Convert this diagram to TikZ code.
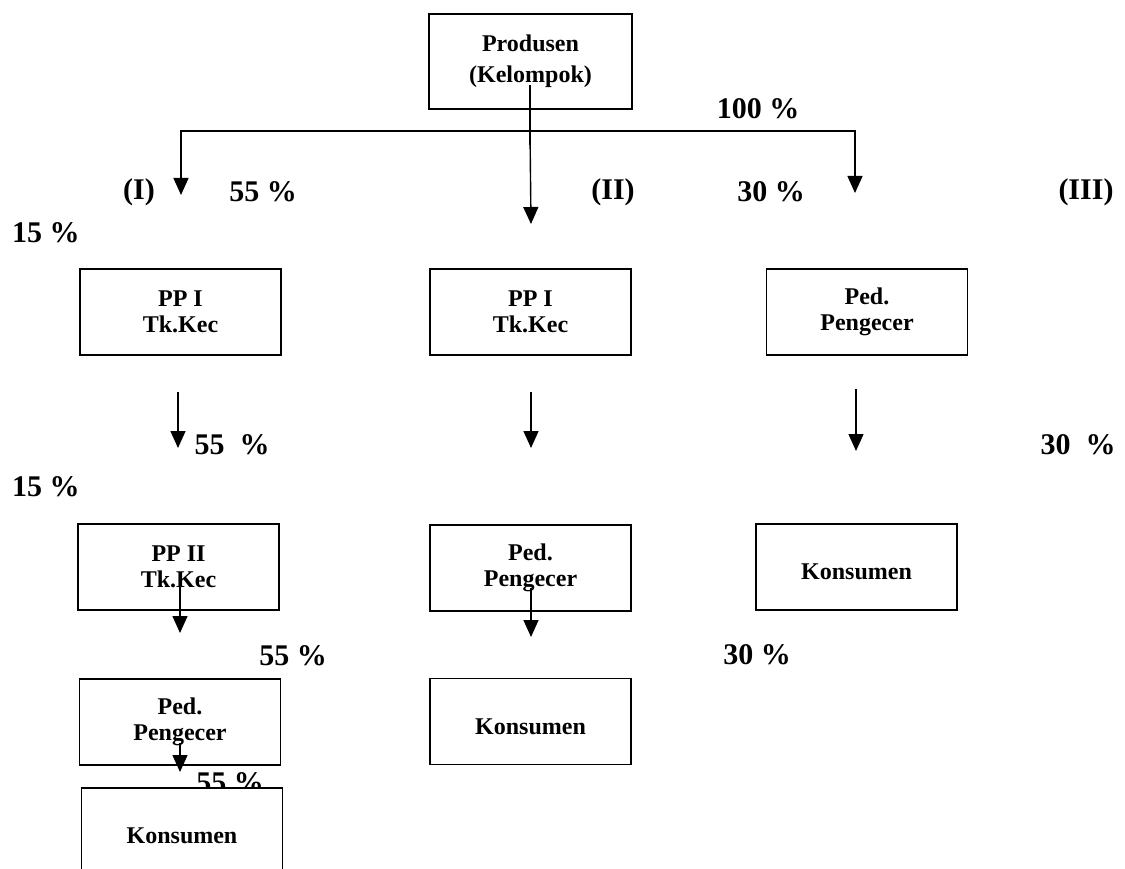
\documentclass[tikz,border=0pt]{standalone}
\usepackage{fontspec}
\setmainfont{Liberation Serif}
\usetikzlibrary{arrows.meta}
\tikzstyle{box} = [rectangle, draw=black, line width=1.6pt, fill=white, minimum width=201pt, minimum height=86pt, inner sep=0pt, align=center, font=\fontsize{24}{26}\selectfont\bfseries]
\tikzstyle{pct} = [inner sep=0pt, font=\fontsize{30}{32}\selectfont\bfseries]
\tikzstyle{line} = [line width=1.5pt]
\tikzstyle{arrow} = [line width=1.4pt,-{Triangle[width=15pt,length=17pt]}]

\begin{document}
\begin{tikzpicture}[x=1pt,y=-1pt]
\useasboundingbox (0,0) rectangle (1125,869);
% boxes
\node (prod) [box, minimum width=203pt, minimum height=95pt] at (530.5,61.5) {Produsen\\[5pt](Kelompok)};
\node (ppIa) [box] at (180.5,312) {PP I\\Tk.Kec};
\node (ppIb) [box] at (530.5,312) {PP I\\Tk.Kec};
\node (pedA) [box] at (867,312) {Ped.\\Pengecer};
\node (ppII) [box] at (178.5,567) {PP II\\Tk.Kec};
\node (pedB) [box] at (530.5,568) {Ped.\\Pengecer};
\node (konA) [box] at (856.5,567) {\mbox{}\\Konsumen};
\node (pedC) [box] at (180,722) {Ped.\\Pengecer};
\node (konB) [box] at (530.5,721.5) {\mbox{}\\Konsumen};
% percentages
\node (p100) [pct] at (758,109) {100 \%};
\node (chI) [pct] at (139,192) {(I)};
\node (p55a) [pct] at (263,192) {55 \%};
\node (chII) [pct] at (613,192) {(II)};
\node (p30a) [pct] at (771,192) {30 \%};
\node (chIII) [pct] at (1086,192) {(III)};
\node (p15a) [pct] at (46,233) {15 \%};
\node (p55b) [pct] at (232,445) {55~~\%};
\node (p30b) [pct] at (1078,445) {30~~\%};
\node (p15b) [pct] at (46,487) {15 \%};
\node (p55c) [pct] at (293,656) {55 \%};
\node (p30c) [pct] at (757,655) {30 \%};
\node (p55d) [pct] at (230,783) {55 \%};
\node (konC) [box] at (182,831) {\mbox{}\\Konsumen};
% free ends
\coordinate (sTop) at (530,85);
\coordinate (sBot) at (530,145);
\coordinate (jM) at (530,131);
\coordinate (tL) at (181,195);
\coordinate (tM) at (531,224);
\coordinate (tR) at (855,193);
\coordinate (aLs) at (178,392);
\coordinate (aLe) at (178,448);
\coordinate (aMs) at (531,392);
\coordinate (aMe) at (531,448);
\coordinate (aRs) at (856,389);
\coordinate (aRe) at (856,451);
\coordinate (bLs) at (180,577);
\coordinate (bLe) at (180,633);
\coordinate (bMs) at (531,588);
\coordinate (bMe) at (531,637);
\coordinate (cLs) at (180,743);
\coordinate (cLe) at (180,772);
% connectors
\draw [line] (sTop) -- (sBot);
\draw [arrow] (jM) -| (tL);
\draw [arrow] (jM) -| (tR);
\draw [arrow] (jM) -- (tM);
\draw [arrow] (aLs) -- (aLe);
\draw [arrow] (aMs) -- (aMe);
\draw [arrow] (aRs) -- (aRe);
\draw [arrow] (bLs) -- (bLe);
\draw [arrow] (bMs) -- (bMe);
\draw [arrow] (cLs) -- (cLe);
\end{tikzpicture}
\end{document}
